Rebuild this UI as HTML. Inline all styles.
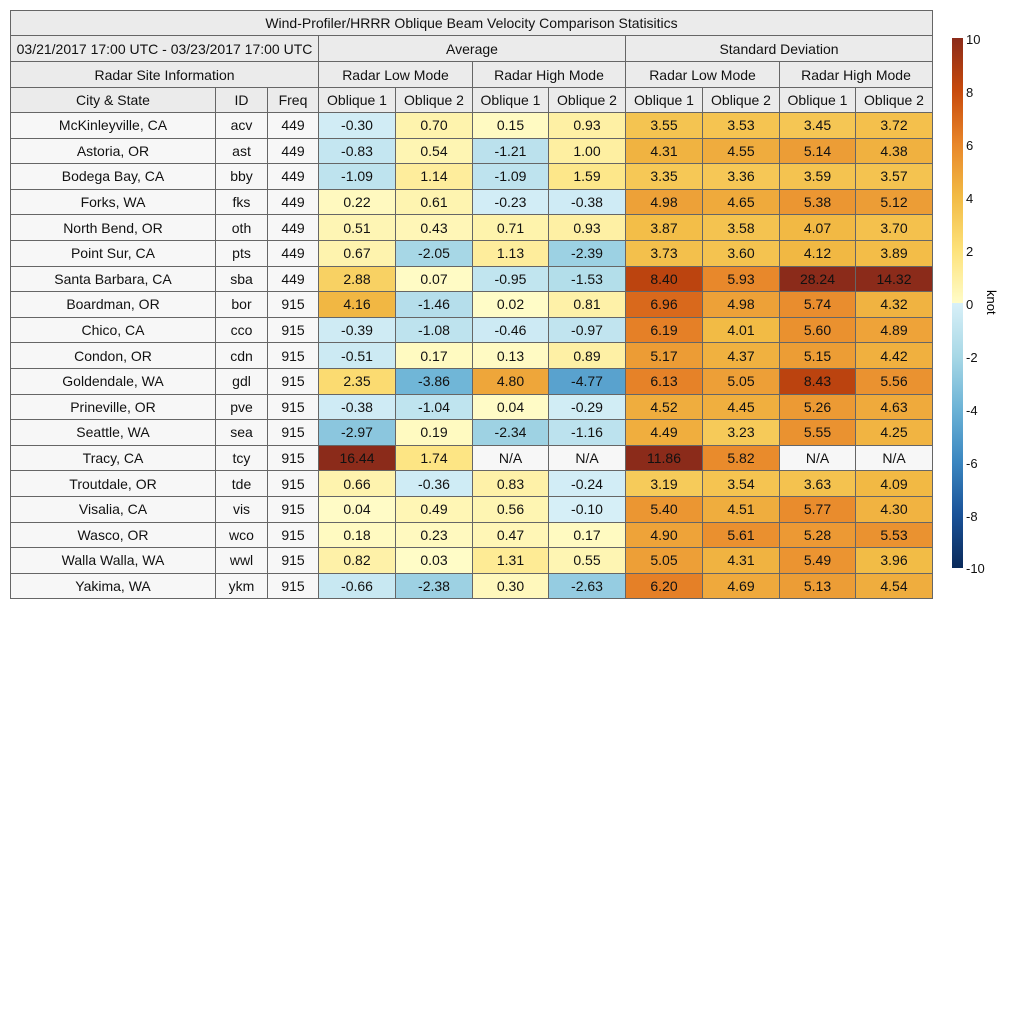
<!DOCTYPE html>
<html><head><meta charset="utf-8"><style>
body{margin:0;width:1024px;height:1024px;background:#fff;position:relative;font-family:"Liberation Sans",sans-serif;}
table{position:absolute;left:10px;top:10px;border-collapse:collapse;table-layout:fixed;width:923px;font-size:14px;color:#111;}
td{border:1px solid #666;text-align:center;padding:0;white-space:nowrap;overflow:hidden;}
thead td{background:#ebebeb;}
tbody td{background:#f7f7f7;height:24.6px;}
.cb{position:absolute;left:952px;top:38px;width:11px;height:530px;background:linear-gradient(to bottom,#8b2b1a 0%,#c84a0c 10%,#e8862a 20%,#f2bb45 30%,#fde27a 40%,#fffcc8 50%,#d8f0f8 50%,#a8d8e6 60%,#6cb3d6 70%,#3a86c0 80%,#1a5298 90%,#0a2a5a 100%);}
.tk{position:absolute;left:966px;font-size:13px;color:#111;}
.lab{position:absolute;left:983px;top:296px;font-size:13px;transform:rotate(90deg);transform-origin:left top;}
</style></head><body>
<table>
<colgroup><col style="width:205px"><col style="width:52px"><col style="width:51px"><col style="width:77px"><col style="width:77px"><col style="width:76px"><col style="width:77px"><col style="width:77px"><col style="width:77px"><col style="width:76px"><col style="width:77px"></colgroup>
<thead>
<tr style="height:25px"><td colspan="11">Wind-Profiler/HRRR Oblique Beam Velocity Comparison Statisitics</td></tr>
<tr style="height:26px"><td colspan="3">03/21/2017 17:00 UTC - 03/23/2017 17:00 UTC</td><td colspan="4">Average</td><td colspan="4">Standard Deviation</td></tr>
<tr style="height:26px"><td colspan="3">Radar Site Information</td><td colspan="2">Radar Low Mode</td><td colspan="2">Radar High Mode</td><td colspan="2">Radar Low Mode</td><td colspan="2">Radar High Mode</td></tr>
<tr style="height:25px"><td>City &amp; State</td><td>ID</td><td>Freq</td><td>Oblique 1</td><td>Oblique 2</td><td>Oblique 1</td><td>Oblique 2</td><td>Oblique 1</td><td>Oblique 2</td><td>Oblique 1</td><td>Oblique 2</td></tr>
</thead>
<tbody>
<tr><td>McKinleyville, CA</td><td>acv</td><td>449</td><td>-0.30</td><td>0.70</td><td>0.15</td><td>0.93</td><td>3.55</td><td>3.53</td><td>3.45</td><td>3.72</td></tr>
<tr><td>Astoria, OR</td><td>ast</td><td>449</td><td>-0.83</td><td>0.54</td><td>-1.21</td><td>1.00</td><td>4.31</td><td>4.55</td><td>5.14</td><td>4.38</td></tr>
<tr><td>Bodega Bay, CA</td><td>bby</td><td>449</td><td>-1.09</td><td>1.14</td><td>-1.09</td><td>1.59</td><td>3.35</td><td>3.36</td><td>3.59</td><td>3.57</td></tr>
<tr><td>Forks, WA</td><td>fks</td><td>449</td><td>0.22</td><td>0.61</td><td>-0.23</td><td>-0.38</td><td>4.98</td><td>4.65</td><td>5.38</td><td>5.12</td></tr>
<tr><td>North Bend, OR</td><td>oth</td><td>449</td><td>0.51</td><td>0.43</td><td>0.71</td><td>0.93</td><td>3.87</td><td>3.58</td><td>4.07</td><td>3.70</td></tr>
<tr><td>Point Sur, CA</td><td>pts</td><td>449</td><td>0.67</td><td>-2.05</td><td>1.13</td><td>-2.39</td><td>3.73</td><td>3.60</td><td>4.12</td><td>3.89</td></tr>
<tr><td>Santa Barbara, CA</td><td>sba</td><td>449</td><td>2.88</td><td>0.07</td><td>-0.95</td><td>-1.53</td><td>8.40</td><td>5.93</td><td>28.24</td><td>14.32</td></tr>
<tr><td>Boardman, OR</td><td>bor</td><td>915</td><td>4.16</td><td>-1.46</td><td>0.02</td><td>0.81</td><td>6.96</td><td>4.98</td><td>5.74</td><td>4.32</td></tr>
<tr><td>Chico, CA</td><td>cco</td><td>915</td><td>-0.39</td><td>-1.08</td><td>-0.46</td><td>-0.97</td><td>6.19</td><td>4.01</td><td>5.60</td><td>4.89</td></tr>
<tr><td>Condon, OR</td><td>cdn</td><td>915</td><td>-0.51</td><td>0.17</td><td>0.13</td><td>0.89</td><td>5.17</td><td>4.37</td><td>5.15</td><td>4.42</td></tr>
<tr><td>Goldendale, WA</td><td>gdl</td><td>915</td><td>2.35</td><td>-3.86</td><td>4.80</td><td>-4.77</td><td>6.13</td><td>5.05</td><td>8.43</td><td>5.56</td></tr>
<tr><td>Prineville, OR</td><td>pve</td><td>915</td><td>-0.38</td><td>-1.04</td><td>0.04</td><td>-0.29</td><td>4.52</td><td>4.45</td><td>5.26</td><td>4.63</td></tr>
<tr><td>Seattle, WA</td><td>sea</td><td>915</td><td>-2.97</td><td>0.19</td><td>-2.34</td><td>-1.16</td><td>4.49</td><td>3.23</td><td>5.55</td><td>4.25</td></tr>
<tr><td>Tracy, CA</td><td>tcy</td><td>915</td><td>16.44</td><td>1.74</td><td>N/A</td><td>N/A</td><td>11.86</td><td>5.82</td><td>N/A</td><td>N/A</td></tr>
<tr><td>Troutdale, OR</td><td>tde</td><td>915</td><td>0.66</td><td>-0.36</td><td>0.83</td><td>-0.24</td><td>3.19</td><td>3.54</td><td>3.63</td><td>4.09</td></tr>
<tr><td>Visalia, CA</td><td>vis</td><td>915</td><td>0.04</td><td>0.49</td><td>0.56</td><td>-0.10</td><td>5.40</td><td>4.51</td><td>5.77</td><td>4.30</td></tr>
<tr><td>Wasco, OR</td><td>wco</td><td>915</td><td>0.18</td><td>0.23</td><td>0.47</td><td>0.17</td><td>4.90</td><td>5.61</td><td>5.28</td><td>5.53</td></tr>
<tr><td>Walla Walla, WA</td><td>wwl</td><td>915</td><td>0.82</td><td>0.03</td><td>1.31</td><td>0.55</td><td>5.05</td><td>4.31</td><td>5.49</td><td>3.96</td></tr>
<tr><td>Yakima, WA</td><td>ykm</td><td>915</td><td>-0.66</td><td>-2.38</td><td>0.30</td><td>-2.63</td><td>6.20</td><td>4.69</td><td>5.13</td><td>4.54</td></tr>
</tbody></table>
<div class="cb"></div>
<div class="tk" style="top:32px">10</div><div class="tk" style="top:85px">8</div><div class="tk" style="top:138px">6</div><div class="tk" style="top:191px">4</div><div class="tk" style="top:244px">2</div><div class="tk" style="top:297px">0</div><div class="tk" style="top:350px">-2</div><div class="tk" style="top:403px">-4</div><div class="tk" style="top:456px">-6</div><div class="tk" style="top:509px">-8</div><div class="tk" style="top:561px">-10</div>
<div class="lab" style="left:999px;top:290px">knot</div>
<script>
var P=[[0,[255,252,200]],[2,[253,226,122]],[4,[242,187,69]],[6,[232,134,42]],[8,[200,74,12]],[10,[139,43,26]]];
var N=[[0,[216,240,248]],[2,[168,216,230]],[4,[108,179,214]],[6,[58,134,192]],[8,[26,82,152]],[10,[10,42,90]]];
function col(v){var s=v<0?N:P;v=Math.min(Math.abs(v),10);for(var i=0;i<5;i++){if(v<=s[i+1][0]){var t=(v-s[i][0])/2,a=s[i][1],b=s[i+1][1];return 'rgb('+[0,1,2].map(function(k){return Math.round(a[k]+(b[k]-a[k])*t)}).join(',')+')';}}}
document.querySelectorAll('tbody tr').forEach(function(r){for(var i=3;i<11;i++){var c=r.cells[i],v=parseFloat(c.textContent);if(!isNaN(v))c.style.background=col(v);}});
</script>
</body></html>
